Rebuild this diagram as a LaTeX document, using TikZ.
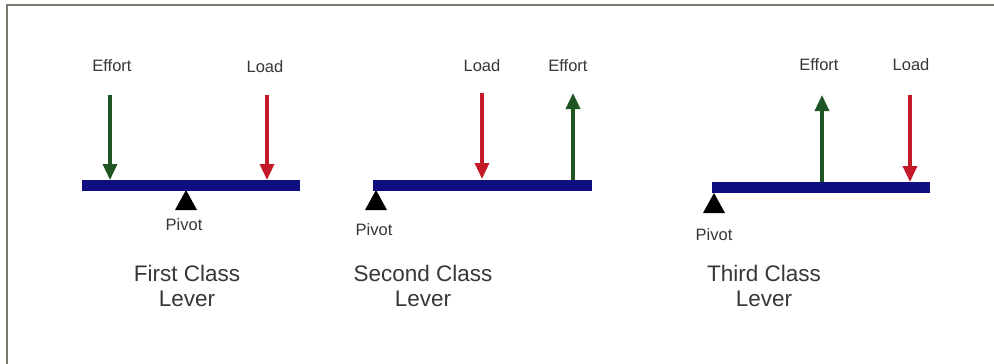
\documentclass[tikz,border=0pt]{standalone}
\usepackage{fontspec}
\setmainfont{Liberation Sans}
\usetikzlibrary{arrows.meta}
\definecolor{barblue}{RGB}{15,15,130}
\definecolor{effgreen}{RGB}{30,85,35}
\definecolor{loadred}{RGB}{195,25,40}
\definecolor{framegray}{RGB}{125,120,110}
\definecolor{txtgray}{RGB}{55,55,55}
\tikzset{
  bar/.style={fill=barblue, draw=none},
  force/.style={line width=3.4pt, -{Triangle[length=16pt,width=14pt]}},
  effortarrow/.style={force, draw=effgreen, color=effgreen},
  loadarrow/.style={force, draw=loadred, color=loadred},
  pivotshape/.style={fill=black},
  lbl/.style={font=\fontsize{16.5}{18}\selectfont, text=txtgray, inner sep=0pt},
  caption/.style={font=\fontsize{22.5}{25}\selectfont, text=txtgray, align=center, inner sep=0pt}
}
\begin{document}
\begin{tikzpicture}[x=1pt,y=-1pt]
\useasboundingbox (0,0) rectangle (994,364);
\fill[white] (0,0) rectangle (994,364);
% frame
\coordinate (ftl) at (7,5);
\coordinate (ftr) at (994,5);
\coordinate (fbl) at (7,364);
\draw[framegray, line width=2.4pt] (fbl) -- (ftl) -- (ftr);

% ---------- First class ----------
\coordinate (p1) at (186,190);
\fill[pivotshape] (p1) -- ++(11,20) -- ++(-22,0) -- cycle;
\fill[bar] (82,179.5) rectangle (300,190.5);
\node[lbl] (pv1) at (184,224.5) {Pivot};
\node[lbl] (e1) at (112,66) {Effort};
\node[lbl] (l1) at (265,67) {Load};
\coordinate (e1s) at (110,95);
\coordinate (e1t) at (110,180);
\coordinate (l1s) at (267,95);
\coordinate (l1t) at (267,180);
\draw[effortarrow] (e1s) -- (e1t);
\draw[loadarrow] (l1s) -- (l1t);
\node[caption] (c1) at (187,286) {First Class\\Lever};

% ---------- Second class ----------
\coordinate (p2) at (376,190);
\fill[pivotshape] (p2) -- ++(11,20) -- ++(-22,0) -- cycle;
\fill[bar] (373,179.5) rectangle (592,190.5);
\node[lbl] (pv2) at (374,229.5) {Pivot};
\node[lbl] (l2) at (482,65.5) {Load};
\node[lbl] (e2) at (568,65.5) {Effort};
\coordinate (l2s) at (482,93);
\coordinate (l2t) at (482,179);
\coordinate (e2s) at (573,180);
\coordinate (e2t) at (573,93);
\draw[loadarrow] (l2s) -- (l2t);
\draw[effortarrow] (e2s) -- (e2t);
\node[caption] (c2) at (423,286) {Second Class\\Lever};

% ---------- Third class ----------
\coordinate (p3) at (714,193);
\fill[pivotshape] (p3) -- ++(11,20) -- ++(-22,0) -- cycle;
\fill[bar] (712,181.5) rectangle (930,192.5);
\node[lbl] (pv3) at (714,235) {Pivot};
\node[lbl] (e3) at (819,64.5) {Effort};
\node[lbl] (l3) at (911,64.5) {Load};
\coordinate (e3s) at (822,182);
\coordinate (e3t) at (822,95);
\coordinate (l3s) at (910,95);
\coordinate (l3t) at (910,182);
\draw[effortarrow] (e3s) -- (e3t);
\draw[loadarrow] (l3s) -- (l3t);
\node[caption] (c3) at (764,286) {Third Class\\Lever};
\end{tikzpicture}
\end{document}
